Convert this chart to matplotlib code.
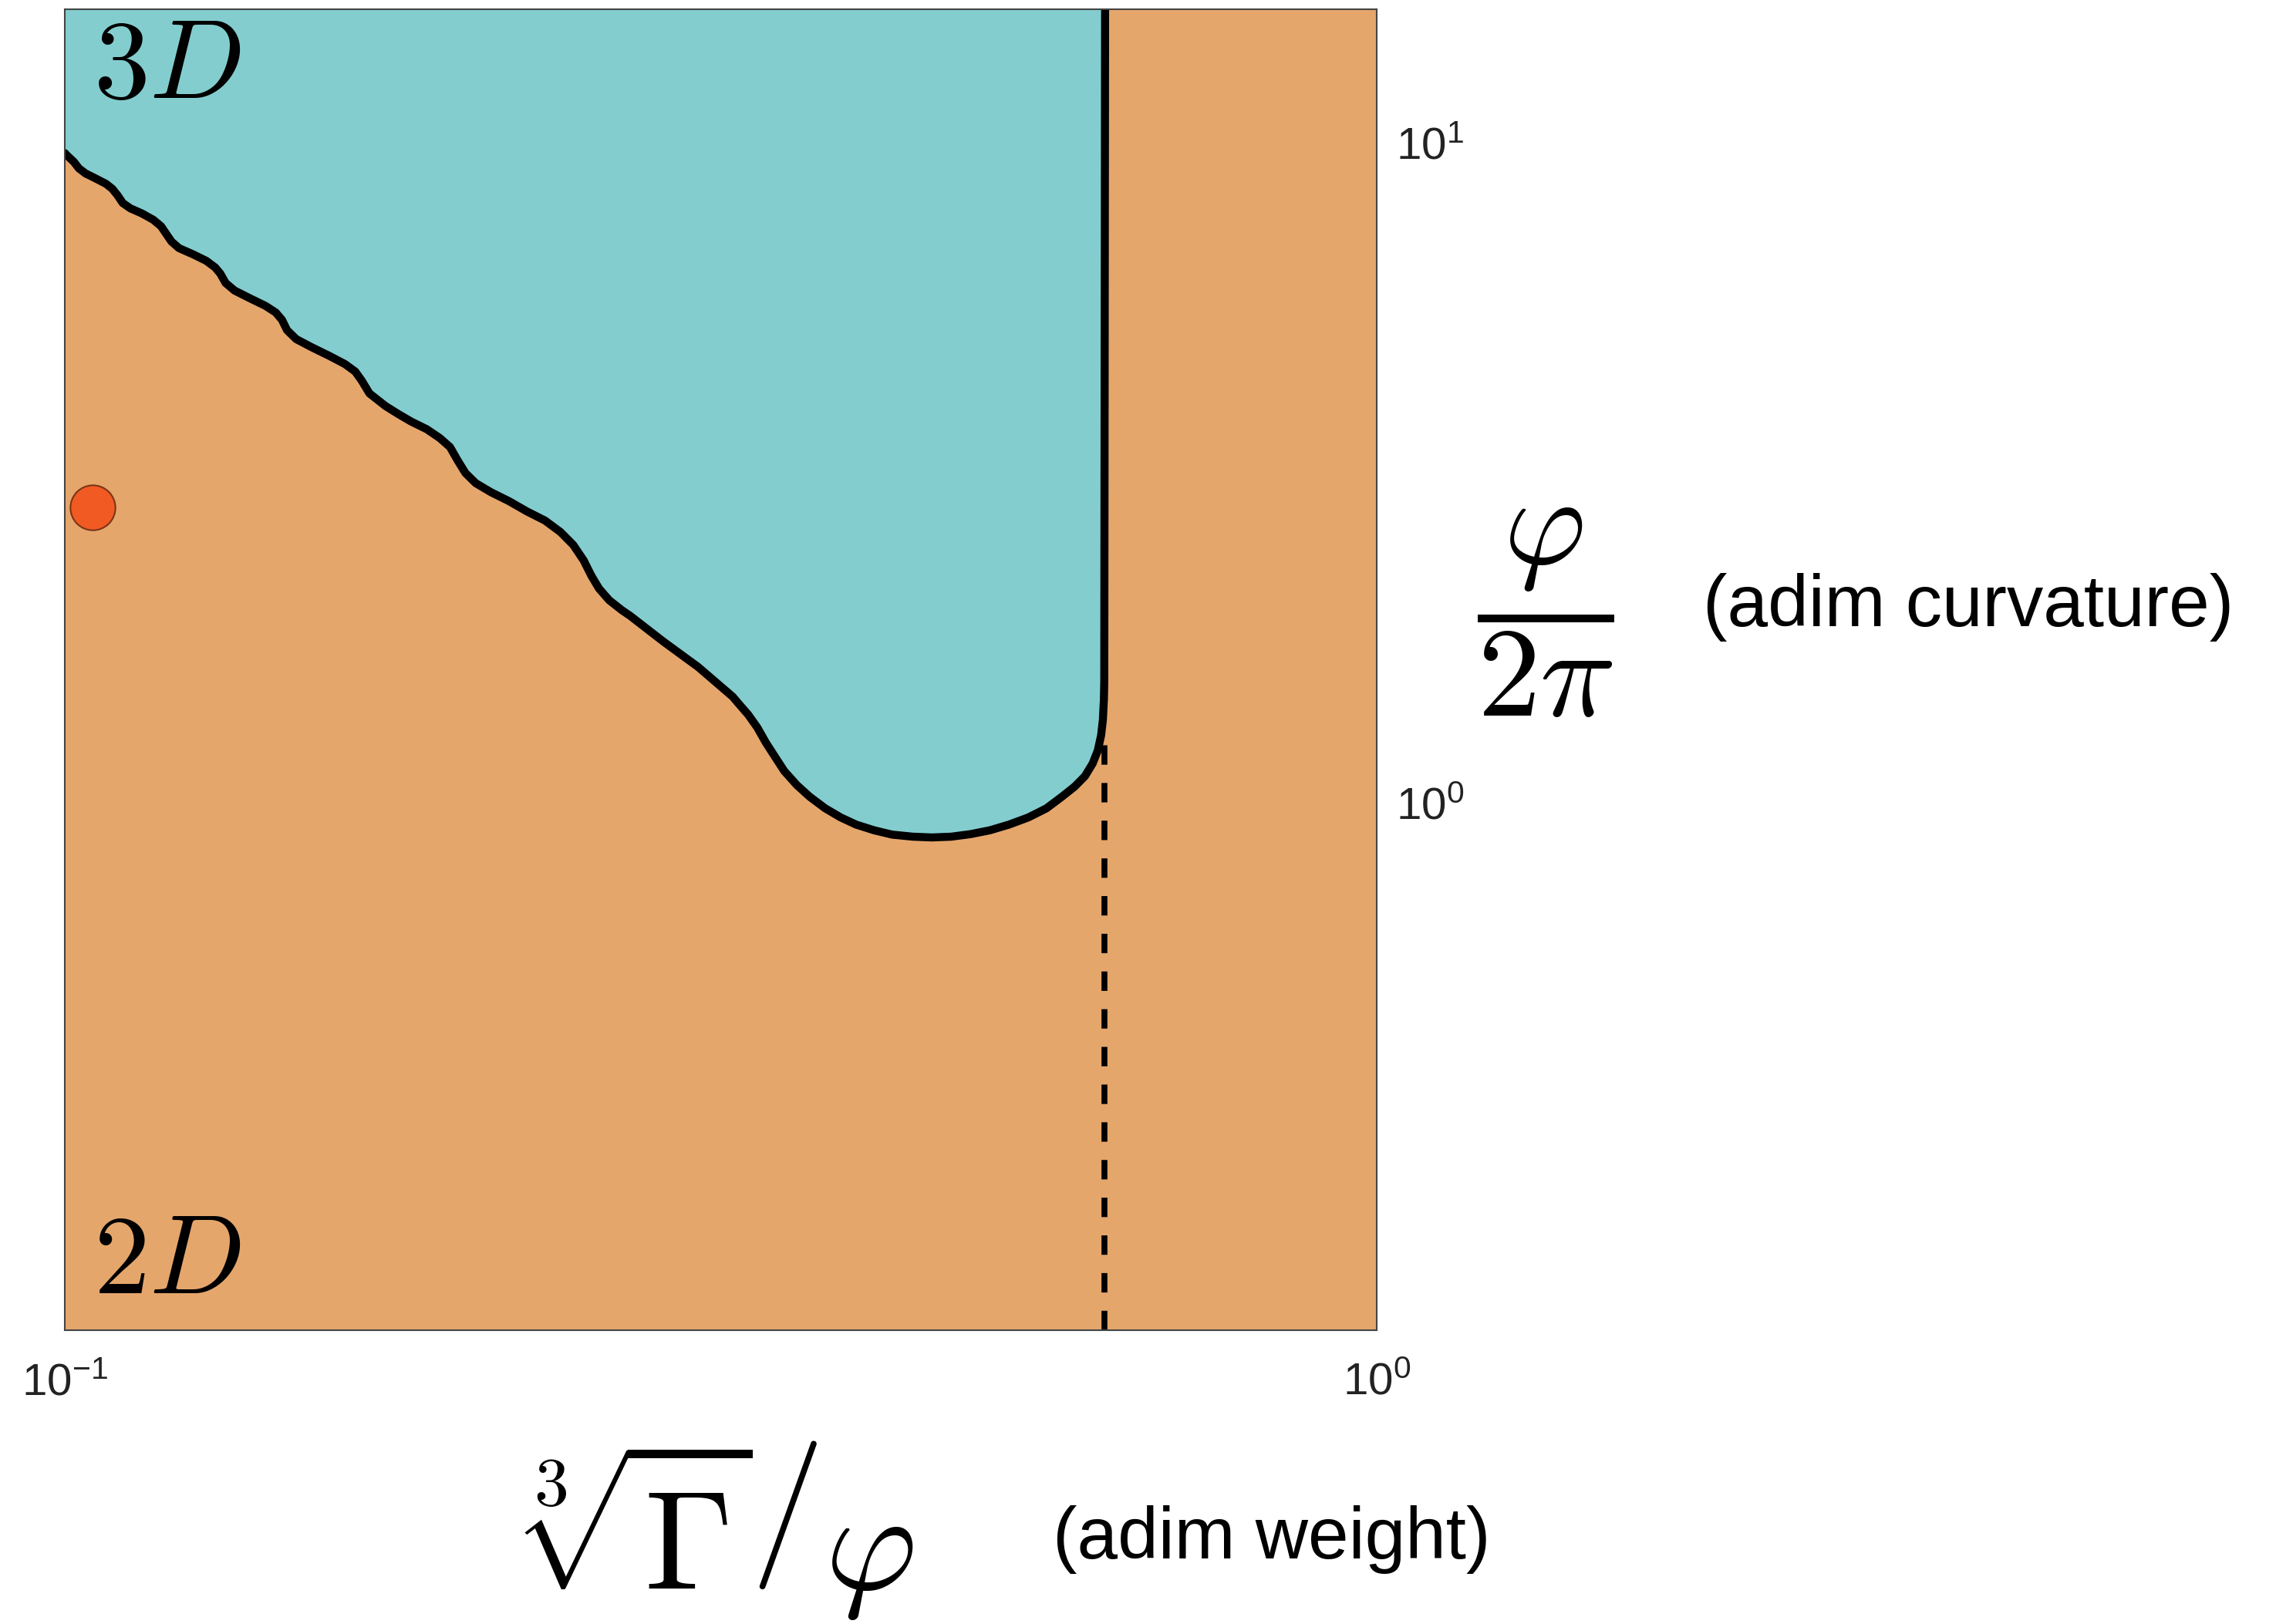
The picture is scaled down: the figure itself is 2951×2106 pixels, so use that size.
import numpy as np
import matplotlib
matplotlib.use('Agg')
import matplotlib.pyplot as plt

# boundary between the 2D and 3D states
bx = [0.1000, 0.1004, 0.1016, 0.1025, 0.1037, 0.1056, 0.1075, 0.1087, 0.1097, 0.1107,
      0.1122, 0.1145, 0.1168, 0.1184, 0.1195, 0.1206, 0.1222, 0.1253, 0.1282, 0.1302,
      0.1314, 0.1326, 0.1347, 0.1384, 0.1422, 0.1448, 0.1464, 0.1477, 0.1501, 0.1542,
      0.1592, 0.1635, 0.1665, 0.1684, 0.1707,
      0.1756, 0.1796, 0.1837, 0.1888, 0.1931, 0.1966, 0.1993, 0.2020, 0.2057, 0.2113,
      0.2181, 0.2251, 0.2323, 0.2387, 0.2441, 0.2486, 0.2520, 0.2554, 0.2600, 0.2660,
      0.2696, 0.2859, 0.3039,
      0.3229, 0.3273, 0.3318, 0.3371, 0.3424, 0.3479, 0.3535, 0.3615, 0.3697, 0.3799,
      0.3903, 0.4010, 0.4139, 0.4272, 0.4429, 0.4581, 0.4739, 0.4902, 0.5071, 0.5245,
      0.5426, 0.5600, 0.5754, 0.5885, 0.5992, 0.6074, 0.6129, 0.6165, 0.6184, 0.6195,
      0.6199, 0.6208]
by = [9.64, 9.56, 9.35, 9.14, 8.98, 8.82, 8.66, 8.51, 8.32, 8.10,
      7.95, 7.81, 7.64, 7.47, 7.27, 7.08, 6.92, 6.77, 6.62, 6.47,
      6.33, 6.13, 5.97, 5.81, 5.66, 5.53, 5.39, 5.20, 5.04, 4.90,
      4.75, 4.62, 4.50, 4.36, 4.17,
      3.99, 3.88, 3.78, 3.68, 3.57, 3.46, 3.30, 3.16, 3.05, 2.955,
      2.864, 2.763, 2.677, 2.572, 2.459, 2.330, 2.208, 2.112, 2.028, 1.957,
      1.922, 1.756, 1.607,
      1.449, 1.404, 1.361, 1.302, 1.233, 1.174, 1.118, 1.064, 1.022, 0.9815,
      0.9511, 0.9276, 0.9093, 0.8957, 0.8893, 0.8869, 0.8893, 0.8972, 0.9093, 0.9276,
      0.9511, 0.9815, 1.022, 1.059, 1.098, 1.148, 1.201, 1.267, 1.337, 1.436,
      1.529, 15.92]

# dashed continuation of the vertical boundary
dash_x = 0.6205
dash_top = 1.24

# the marked point
pt_x = [0.105]
pt_y = [2.8]

xlim = (0.1, 1.0)
ylim = (1 / (2 * np.pi), 100 / (2 * np.pi))
xticks = [0.1, 1.0]
xticklabels = [r'$\mathrm{10^{-1}}$', r'$\mathrm{10^{0}}$']
yticks = [1.0, 10.0]
yticklabels = [r'$\mathrm{10^{0}}$', r'$\mathrm{10^{1}}$']

teal = '#83cdcf'
orange = '#e5a66c'

plt.rcParams['font.family'] = ['Liberation Sans', 'DejaVu Sans']
plt.rcParams['mathtext.fontset'] = 'custom'
plt.rcParams['mathtext.rm'] = 'Liberation Sans'
plt.rcParams['mathtext.it'] = 'Liberation Sans:italic'

fig = plt.figure(figsize=(29.51, 21.06), dpi=100)
ax = fig.add_axes([0.02847, 0.18091, 0.57642, 0.81339])
ax.set_xscale('log')
ax.set_yscale('log')
ax.set_xlim(xlim)
ax.set_ylim(ylim)
ax.set_facecolor(orange)

# 3D region above the boundary
ax.fill(bx + [bx[-1], xlim[0]], by + [ylim[1], ylim[1]], color=teal, lw=0)
ax.plot(bx, by, color='black', lw=7.5, solid_joinstyle='round', solid_capstyle='round')
ax.vlines(dash_x, ylim[0], dash_top, colors='black', lw=5.5, linestyles=(0, (3.3, 3.1)))
ax.plot(pt_x, pt_y, 'o', ms=42, mfc='#f15a22', mec='#7a3518', mew=1.5, clip_on=False)

ax.text(0.022, 0.995, r'$3D$', transform=ax.transAxes, fontsize=105,
        ha='left', va='top', math_fontfamily='cm')
ax.text(0.022, 0.028, r'$2D$', transform=ax.transAxes, fontsize=105,
        ha='left', va='baseline', math_fontfamily='cm')

ax.set_xticks(xticks, labels=xticklabels)
ax.set_yticks(yticks, labels=yticklabels)
ax.minorticks_off()
ax.tick_params(axis='both', length=0, labelsize=42, colors='#222222')
ax.tick_params(axis='x', pad=30)
ax.tick_params(axis='y', left=False, labelleft=False, right=False, labelright=True, pad=18)
for s in ax.spines.values():
    s.set_linewidth(1.5)
    s.set_color('#444444')

# axis labels
fig.text(0.3158, 0.0575, r'$\left.\sqrt[3]{\Gamma}\right/\varphi$', fontsize=132,
         ha='center', va='center', math_fontfamily='cm')
fig.text(0.4626, 0.052, '(adim weight)', fontsize=68, ha='left', va='center')
fig.text(0.6791, 0.6225, r'$\dfrac{\varphi}{2\pi}$', fontsize=118,
         ha='center', va='center', math_fontfamily='cm')
fig.text(0.7482, 0.6263, '(adim curvature)', fontsize=68, ha='left', va='center')

fig.savefig('out.png', dpi=100)
